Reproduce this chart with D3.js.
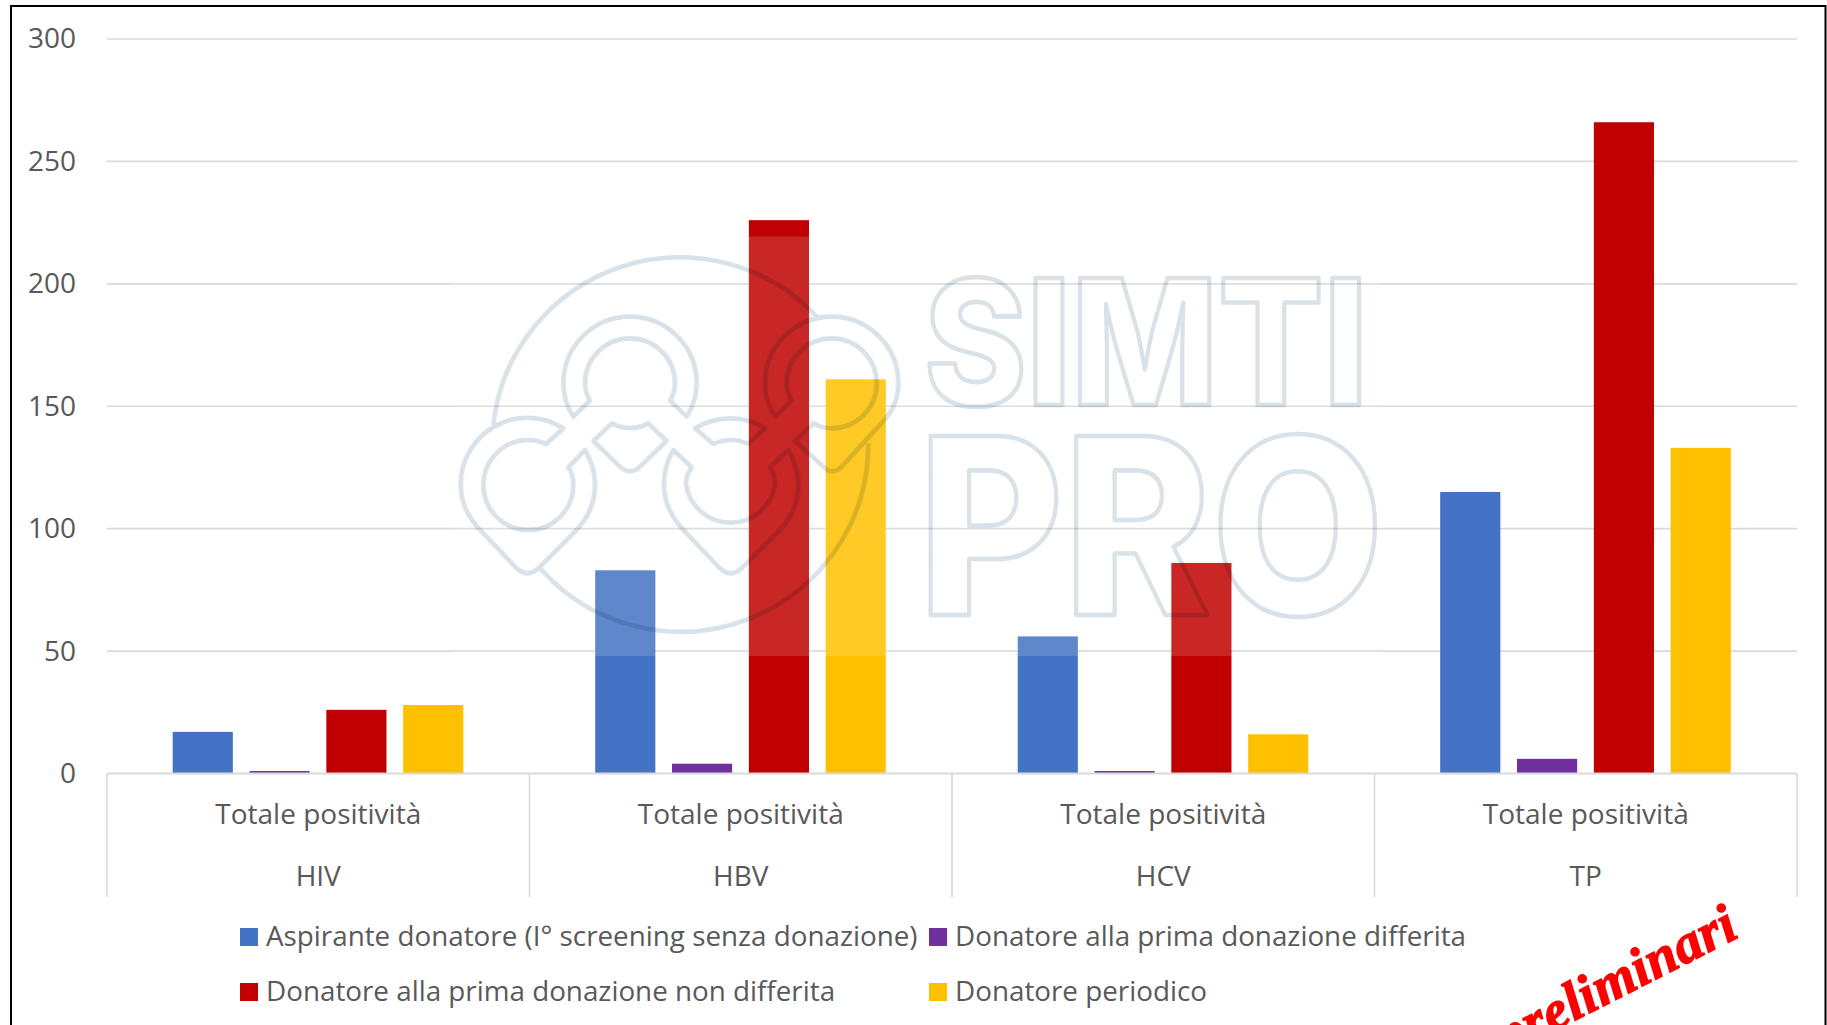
<!DOCTYPE html>
<html><head><meta charset="utf-8">
<script src="https://cdn.jsdelivr.net/npm/d3@7/dist/d3.min.js"></script>
<style>
html,body{margin:0;padding:0;background:#fff;overflow:hidden}
svg{display:block}
text{font-family:"Open Sans",sans-serif}
</style></head><body>
<svg id="c" width="1827" height="1025"></svg>
<script>
const diseases = ["HIV","HBV","HCV","TP"];
const subLabel = "Totale positività";
const seriesNames = ["Aspirante donatore (I° screening senza donazione)","Donatore alla prima donazione differita","Donatore alla prima donazione non differita","Donatore periodico"];
const seriesColors = ["#4472C4","#7030A0","#C00000","#FFC000"];
const aspirante = [17,83,56,115];
const differita = [1,4,1,6];
const nonDifferita = [26,226,86,266];
const periodico = [28,161,16,133];
const seriesValues = [aspirante,differita,nonDifferita,periodico];
const yTicks = [0,50,100,150,200,250,300];

const svg = d3.select("#c");
const textCol = "#595959", gridCol = "#d9d9d9";
const L=107,R=1797,Y0=773.5,Y300=39;
const y = d3.scaleLinear().domain([0,300]).range([Y0,Y300]);
const x0 = d3.scaleBand().domain(diseases).range([L,R]);
const x1 = d3.scaleBand().domain(d3.range(4)).range([65.7,356.3]).paddingInner(0.217);

// frame
svg.append("rect").attr("x",11).attr("y",6).attr("width",1814.5).attr("height",1100)
  .attr("fill","#fff").attr("stroke","#000").attr("stroke-width",2);

// grid & y axis
const yAxis = d3.axisLeft(y).tickValues(yTicks).tickSize(0).tickPadding(0);
const gy = svg.append("g").attr("transform",`translate(76,0)`).call(yAxis);
gy.select(".domain").remove();
gy.selectAll("text").attr("fill",textCol).style("font-size","28px").style("font-family",'"Open Sans",sans-serif').attr("dy","0.32em");
svg.append("g").selectAll("line").data(yTicks.filter(d=>d>0)).join("line")
  .attr("x1",L).attr("x2",R).attr("y1",d=>y(d)).attr("y2",d=>y(d))
  .attr("stroke",gridCol).attr("stroke-width",1.6);

// bars
svg.append("g").selectAll("g").data(seriesValues).join("g")
  .attr("fill",(d,i)=>seriesColors[i])
  .each(function(vals,si){
    d3.select(this).selectAll("rect").data(vals).join("rect")
      .attr("x",(d,i)=>x0(diseases[i])+x1(si))
      .attr("width",x1.bandwidth())
      .attr("y",d=>y(d))
      .attr("height",d=>y(0)-y(d));
  });

// baseline and separators
svg.append("line").attr("x1",L).attr("x2",R).attr("y1",Y0).attr("y2",Y0).attr("stroke",gridCol).attr("stroke-width",1.8);
const seps = diseases.map(d=>x0(d)).concat([R]);
svg.append("g").selectAll("line").data(seps).join("line")
  .attr("x1",d=>d).attr("x2",d=>d).attr("y1",Y0).attr("y2",897)
  .attr("stroke",gridCol).attr("stroke-width",1.6);

// category labels
const cat = svg.append("g").attr("fill",textCol).attr("text-anchor","middle").style("font-size","28px");
cat.selectAll("text.s").data(diseases).join("text").attr("class","s")
  .attr("x",d=>x0(d)+x0.bandwidth()/2).attr("y",815).attr("dy","0.32em").text(subLabel);
cat.selectAll("text.d").data(diseases).join("text").attr("class","d")
  .attr("x",d=>x0(d)+x0.bandwidth()/2).attr("y",877).attr("dy","0.32em").text(d=>d);

// legend
const legX=[240,929], legY=[937,992], txtOff=26;
const leg = svg.append("g").selectAll("g").data(seriesNames).join("g")
  .attr("transform",(d,i)=>`translate(${legX[i%2]},${legY[i>>1]})`);
leg.append("rect").attr("x",0).attr("y",-9).attr("width",18).attr("height",18).attr("fill",(d,i)=>seriesColors[i]);
leg.append("text").attr("x",txtOff).attr("dy","0.32em").attr("fill",textCol).style("font-size","27.8px").text(d=>d);

// watermark veil
svg.append("rect").attr("x",452).attr("y",236.5).attr("width",930).attr("height",419.5)
  .attr("fill","#fff").attr("fill-opacity",0.15);

// watermark logo + wordmark
const wm = svg.append("g").style("mix-blend-mode","multiply").attr("fill","none").attr("stroke","#d9e2e8").attr("stroke-width",4.6).attr("stroke-linejoin","round");
const logo = wm.append("g").attr("transform","translate(440,240) scale(0.3333)").attr("stroke-width",14);
[
 "M160,555 A563,563 0 0 1 1135,235",
 "M1285,610 A563,563 0 0 1 300,985",
 "M370,565 A200,200 0 0 0 62,733 C62,790 85,835 125,875 L230,985 Q262,1015 295,985 L405,875 C445,835 465,790 465,733 C465,695 452,660 435,630 L385,682 Q400,705 400,733 A135,135 0 1 1 262,600 Q292,600 318,612 Z",
 "M765,565 Q815,535 872,535 Q930,535 975,565 L925,612 Q900,600 872,600 Q845,600 820,612 Z",
 "M700,630 C682,660 672,695 672,733 C672,790 695,835 735,875 L840,985 Q872,1015 905,985 L1015,875 C1055,835 1075,790 1075,733 C1075,695 1062,660 1045,630 L990,682 Q1005,705 1005,733 A135,135 0 0 1 738,733 Q738,705 755,682 Z",
 "M400,530 C380,500 370,465 370,430 A200,200 0 0 1 770,430 C770,465 760,500 740,530 L690,482 Q705,458 705,430 A135,135 0 0 0 435,430 Q435,458 450,482 Z",
 "M460,603 L515,550 Q570,578 625,550 L680,603 L600,680 Q570,708 540,680 Z",
 "M1005,530 C985,500 975,465 975,430 A200,200 0 0 1 1375,430 C1375,490 1350,525 1310,565 L1205,680 Q1178,708 1150,680 L1065,603 L1120,550 Q1145,565 1175,565 A135,135 0 0 0 1175,295 A135,135 0 0 0 1040,430 Q1040,458 1055,482 Z"
].forEach(d=>logo.append("path").attr("d",d));
wm.append("text").attr("x",924).attr("y",405).attr("textLength",444).attr("lengthAdjust","spacingAndGlyphs")
  .style("font-family","Inter,sans-serif").style("font-weight",800).style("font-size","174px").text("SIMTI");
wm.append("text").attr("x",918).attr("y",615).attr("textLength",466).attr("lengthAdjust","spacingAndGlyphs")
  .style("font-family","Inter,sans-serif").style("font-weight",800).style("font-size","246px").text("PRO");

// red note
svg.append("text").attr("transform","translate(1741,936) rotate(-27)").attr("text-anchor","end")
  .attr("fill","#ff0000").attr("stroke","#ff0000").attr("stroke-width",1.4).attr("letter-spacing",0.5)
  .style("font-family",'"Liberation Serif",serif').style("font-style","italic").style("font-weight",700).style("font-size","55px").text("preliminari");
</script>
</body></html>
